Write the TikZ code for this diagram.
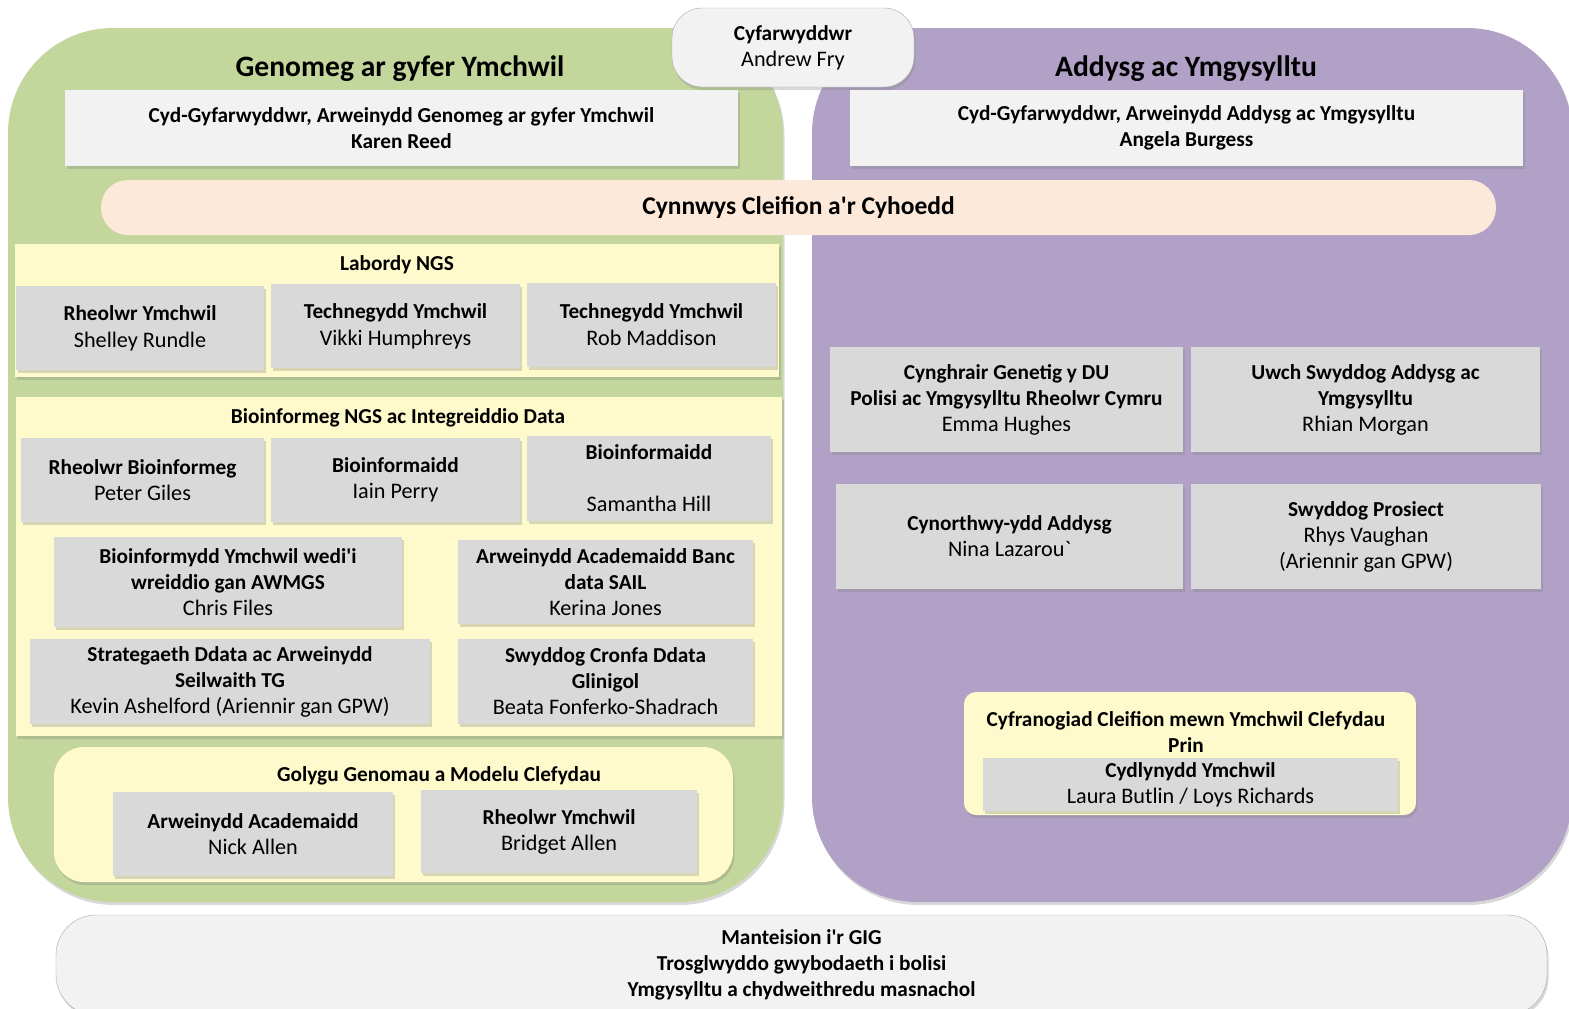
\documentclass[tikz,border=0pt]{standalone}
\usepackage{fontspec}
\newfontfamily\orgfont{Carlito}
\usetikzlibrary{shadows}
\definecolor{genogreen}{RGB}{195,214,155}
\definecolor{engpurple}{RGB}{178,161,199}
\definecolor{teampale}{RGB}{255,250,204}
\definecolor{rolegray}{RGB}{217,217,217}
\definecolor{leadgray}{RGB}{242,242,242}
\definecolor{ppipeach}{RGB}{253,233,217}
\definecolor{edgegray}{RGB}{170,170,170}
\newcommand{\bodysize}{\orgfont\fontsize{21.3}{26}\selectfont}
\newcommand{\labsize}{\orgfont\fontsize{21.3}{27}\selectfont}
\newcommand{\ppisize}{\orgfont\bfseries\fontsize{25.5}{30}\selectfont}
\newcommand{\titlesize}{\orgfont\bfseries\fontsize{29.6}{34}\selectfont}
\newcommand{\who}[1]{{\fontsize{22.2}{26}\selectfont #1}}

\begin{document}
\begin{tikzpicture}[x=1pt, y=-1pt,
  boxshadow/.style={drop shadow={shadow xshift=1.5pt, shadow yshift=-3pt, opacity=0.3}},
  panel/.style={inner sep=0pt, outer sep=0pt, rounded corners=105pt, boxshadow},
  team/.style={fill=teampale, inner sep=0pt, outer sep=0pt, boxshadow},
  role/.style={fill=rolegray, inner sep=0pt, outer sep=0pt, align=center, font=\bodysize, boxshadow},
  lead/.style={fill=leadgray, inner sep=0pt, outer sep=0pt, align=center, font=\bodysize\bfseries, boxshadow},
  heading/.style={inner sep=0pt, align=center, font=\bodysize\bfseries}]
  \useasboundingbox (0,0) rectangle (1569,1009);
  \fill[white] (0,0) rectangle (1569,1009);

  % Two programme panels
  \node[panel, fill=genogreen, minimum width=775pt, minimum height=874pt] (genopanel) at (395.5,465) {};
  \node[panel, fill=engpurple, minimum width=760pt, minimum height=874pt] (engpanel) at (1192,465) {};

  % Director
  \node[lead, draw=edgegray, rounded corners=30pt, minimum width=242pt, minimum height=79pt, font=\bodysize] (director) at (793,47.5) {\textbf{Cyfarwyddwr}\\\who{Andrew Fry}};

  \node[font=\titlesize] (genotitle) at (400,68.5) {Genomeg ar gyfer Ymchwil};
  \node[font=\titlesize] (engtitle) at (1186,68.5) {Addysg ac Ymgysylltu};

  % Co-directors
  \node[lead, minimum width=673pt, minimum height=76pt] (genolead) at (401.5,128) {Cyd-Gyfarwyddwr, Arweinydd Genomeg ar gyfer Ymchwil\\Karen Reed};
  \node[lead, minimum width=673pt, minimum height=76pt] (englead) at (1186.5,128) {Cyd-Gyfarwyddwr, Arweinydd Addysg ac Ymgysylltu\\Angela Burgess};

  % Patient and public involvement
  \node[fill=ppipeach, rounded corners=27pt, inner sep=0pt, minimum width=1395pt, minimum height=55pt, font=\ppisize] (ppi) at (798.5,207.5) {Cynnwys Cleifion a'r Cyhoedd};

  % NGS lab
  \node[team, minimum width=764pt, minimum height=133pt] (labteam) at (397,310.5) {};
  \node[heading] (labtitle) at (397,265) {Labordy NGS};
  \node[role, font=\labsize, minimum width=248pt, minimum height=84pt] (labmgr) at (140,328) {\textbf{Rheolwr Ymchwil}\\\who{Shelley Rundle}};
  \node[role, font=\labsize, minimum width=249pt, minimum height=84pt] (labtech) at (395.5,326) {\textbf{Technegydd Ymchwil}\\\who{Vikki Humphreys}};
  \node[role, font=\labsize, minimum width=249pt, minimum height=84pt] (labtechb) at (651.5,325) {\textbf{Technegydd Ymchwil}\\\who{Rob Maddison}};

  % NGS bioinformatics and data integration
  \node[team, minimum width=766pt, minimum height=339pt] (bioteam) at (399,566.5) {};
  \node[heading] (biotitle) at (398,418) {Bioinformeg NGS ac Integreiddio Data};
  \node[role, minimum width=243pt, minimum height=84pt] (biomgr) at (142.5,480) {\textbf{Rheolwr Bioinformeg}\\\who{Peter Giles}};
  \node[role, minimum width=249pt, minimum height=84pt] (bioinfa) at (395.5,480) {\textbf{Bioinformaidd}\\\who{Iain Perry}};
  \node[role, minimum width=244pt, minimum height=85pt] (bioinfb) at (649,478.5) {\textbf{Bioinformaidd}\\[26pt]\who{Samantha Hill}};
  \node[role, minimum width=348pt, minimum height=90pt] (awmgs) at (228,582) {\textbf{Bioinformydd Ymchwil wedi'i}\\\textbf{wreiddio gan AWMGS}\\\who{Chris Files}};
  \node[role, minimum width=295pt, minimum height=84pt] (sail) at (605.5,582) {\textbf{Arweinydd Academaidd Banc}\\\textbf{data SAIL}\\\who{Kerina Jones}};
  \node[role, minimum width=400pt, minimum height=85pt] (datalead) at (230,681.5) {\textbf{Strategaeth Ddata ac Arweinydd}\\\textbf{Seilwaith TG}\\\who{Kevin Ashelford (Ariennir gan GPW)}};
  \node[role, minimum width=295pt, minimum height=85pt] (clindb) at (605.5,681.5) {\textbf{Swyddog Cronfa Ddata}\\\textbf{Glinigol}\\\who{Beata Fonferko-Shadrach}};

  % Genome editing and disease modelling
  \node[team, rounded corners=30pt, minimum width=679pt, minimum height=135pt] (gedteam) at (393.5,814.5) {};
  \node[heading] (gedtitle) at (439,775.5) {Golygu Genomau a Modelu Clefydau};
  \node[role, minimum width=280pt, minimum height=84pt] (gedlead) at (253,834) {\textbf{Arweinydd Academaidd}\\\who{Nick Allen}};
  \node[role, minimum width=276pt, minimum height=83pt] (gedmgr) at (559,831.5) {\textbf{Rheolwr Ymchwil}\\\who{Bridget Allen}};

  % Education and engagement
  \node[role, minimum width=353pt, minimum height=105pt] (gapolicy) at (1006.5,399.5) {\textbf{Cynghrair Genetig y DU}\\\textbf{Polisi ac Ymgysylltu Rheolwr Cymru}\\\who{Emma Hughes}};
  \node[role, minimum width=349pt, minimum height=105pt] (eduofficer) at (1365.5,399.5) {\textbf{Uwch Swyddog Addysg ac}\\\textbf{Ymgysylltu}\\\who{Rhian Morgan}};
  \node[role, minimum width=347pt, minimum height=105pt] (eduassist) at (1009.5,536.5) {\textbf{Cynorthwy-ydd Addysg}\\\who{Nina Lazarou`}};
  \node[role, minimum width=350pt, minimum height=105pt] (projofficer) at (1366,536.5) {\textbf{Swyddog Prosiect}\\\who{Rhys Vaughan}\\\who{(Ariennir gan GPW)}};

  % Rare disease research
  \node[team, rounded corners=12pt, minimum width=452pt, minimum height=123pt] (rareteam) at (1190,753.5) {};
  \node[heading] (raretitle) at (1186,732.5) {Cyfranogiad Cleifion mewn Ymchwil Clefydau\\Prin};
  \node[role, minimum width=415pt, minimum height=53pt] (rarecoord) at (1190.5,784.5) {\textbf{Cydlynydd Ymchwil}\\\who{Laura Butlin / Loys Richards}};

  % Outcomes
  \node[lead, draw=edgegray, rounded corners=40pt, minimum width=1491pt, minimum height=100pt] (benefits) at (801.5,965) {Manteision i'r GIG\\Trosglwyddo gwybodaeth i bolisi\\Ymgysylltu a chydweithredu masnachol};
\end{tikzpicture}
\end{document}
